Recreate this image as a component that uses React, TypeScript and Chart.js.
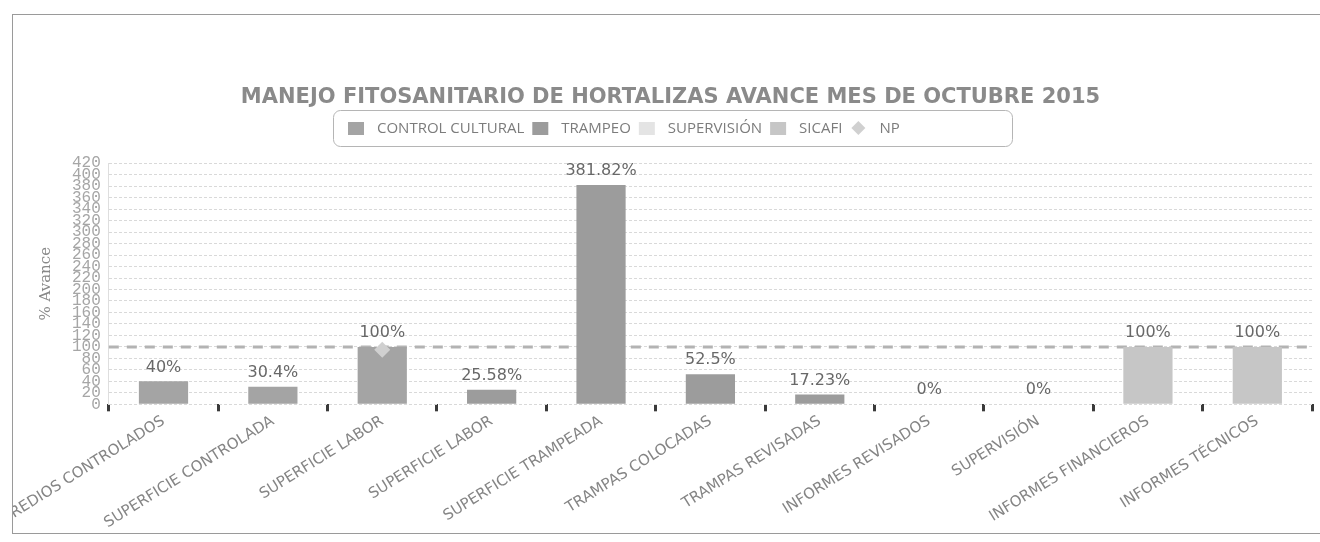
import React, { useEffect, useRef } from 'react';
import { Chart, registerables } from 'chart.js';

Chart.register(...registerables);

const categories = [
  'PREDIOS CONTROLADOS',
  'SUPERFICIE CONTROLADA',
  'SUPERFICIE LABOR',
  'SUPERFICIE LABOR',
  'SUPERFICIE TRAMPEADA',
  'TRAMPAS COLOCADAS',
  'TRAMPAS REVISADAS',
  'INFORMES REVISADOS',
  'SUPERVISIÓN',
  'INFORMES FINANCIEROS',
  'INFORMES TÉCNICOS',
];

const controlCultural = [40, 30.4, 100, null, null, null, null, null, null, null, null];
const trampeo = [null, null, null, 25.58, 381.82, 52.5, 17.23, null, null, null, null];
const supervision = [null, null, null, null, null, null, null, 0, 0, null, null];
const sicafi = [null, null, null, null, null, null, null, null, null, 100, 100];
const np = [null, null, 95, null, null, null, null, null, null, null, null];

const metaValue = 100;
const yMin = 0;
const yMax = 420;
const yStep = 20;

const titleText = 'MANEJO FITOSANITARIO DE HORTALIZAS AVANCE MES DE OCTUBRE 2015';
const yTitle = '% Avance';

const metaLinePlugin = {
  id: 'metaLine',
  beforeDatasetsDraw(chart: any) {
    const { ctx, chartArea } = chart;
    const y = chart.scales.y.getPixelForValue(metaValue);
    ctx.save();
    ctx.beginPath();
    ctx.setLineDash([10, 8]);
    ctx.strokeStyle = '#b3b3b3';
    ctx.lineWidth = 3;
    ctx.moveTo(chartArea.left, y);
    ctx.lineTo(chartArea.right, y);
    ctx.stroke();
    ctx.restore();
  },
};

const valueLabelPlugin = {
  id: 'valueLabels',
  afterDatasetsDraw(chart: any) {
    const { ctx } = chart;
    ctx.save();
    ctx.font = '16px "DejaVu Sans"';
    ctx.fillStyle = '#686868';
    ctx.textAlign = 'center';
    ctx.textBaseline = 'bottom';
    chart.data.datasets.forEach((ds: any, i: number) => {
      if (ds.type === 'line') return;
      const meta = chart.getDatasetMeta(i);
      meta.data.forEach((el: any, j: number) => {
        const v = ds.data[j];
        if (v === null || v === undefined) return;
        ctx.fillText(`${v}%`, el.x, el.y - 6);
      });
    });
    ctx.restore();
  },
};

const legendPlugin = {
  id: 'boxedLegend',
  afterDraw(chart: any) {
    const { ctx } = chart;
    const bx = 320;
    const by = 95;
    const bw = 679;
    const bh = 36;
    ctx.save();
    ctx.beginPath();
    (ctx as any).roundRect(bx + 0.5, by + 0.5, bw, bh, 7);
    ctx.strokeStyle = '#b5b5b5';
    ctx.lineWidth = 1;
    ctx.stroke();
    const cy = by + bh / 2;
    let x = 335;
    ctx.font = '15px "Open Sans"';
    ctx.textBaseline = 'middle';
    ctx.textAlign = 'left';
    chart.data.datasets.forEach((ds: any) => {
      if (ds.type === 'line') {
        ctx.beginPath();
        ctx.moveTo(x + 8, cy - 7);
        ctx.lineTo(x + 15, cy);
        ctx.lineTo(x + 8, cy + 7);
        ctx.lineTo(x + 1, cy);
        ctx.closePath();
        ctx.fillStyle = ds.backgroundColor;
        ctx.fill();
      } else {
        ctx.fillStyle = ds.backgroundColor;
        ctx.fillRect(x, cy - 6, 16, 13);
      }
      x += 16 + 13;
      ctx.fillStyle = '#7c7c7c';
      ctx.fillText(ds.label, x, cy + 1);
      x += ctx.measureText(ds.label).width + 8;
    });
    ctx.restore();
  },
};

export default function App() {
  const ref = useRef<HTMLCanvasElement | null>(null);

  useEffect(() => {
    if (!ref.current) return;
    Chart.defaults.font.family = '"DejaVu Sans"';
    const chart = new Chart(ref.current, {
      type: 'bar',
      data: {
        labels: categories,
        datasets: [
          { type: 'bar', label: 'CONTROL CULTURAL', data: controlCultural, backgroundColor: '#a4a4a4', order: 1 } as any,
          { type: 'bar', label: 'TRAMPEO', data: trampeo, backgroundColor: '#9c9c9c', order: 1 } as any,
          { type: 'bar', label: 'SUPERVISIÓN', data: supervision, backgroundColor: '#e4e4e4', order: 1 } as any,
          { type: 'bar', label: 'SICAFI', data: sicafi, backgroundColor: '#c6c6c6', order: 1 } as any,
          {
            type: 'line',
            label: 'NP',
            data: np,
            order: 0,
            showLine: false,
            backgroundColor: '#d0d0d0',
            borderColor: '#d0d0d0',
            pointStyle: 'rectRot',
            pointRadius: 8,
            borderWidth: 0,
          } as any,
        ],
      },
      options: {
        animation: false,
        responsive: false,
        maintainAspectRatio: false,
        layout: { padding: { left: 10, right: 2, top: 0, bottom: 0 } },
        datasets: { bar: { skipNull: true, categoryPercentage: 0.9, barPercentage: 0.5 } } as any,
        plugins: {
          legend: { display: false },
          tooltip: { enabled: false },
          title: {
            display: true,
            text: titleText,
            color: '#8a8a8a',
            font: { size: 21, weight: 'bold', family: '"DejaVu Sans"' },
            padding: { top: 70, bottom: 53 },
          },
        },
        scales: {
          x: {
            grid: {
              display: true,
              drawOnChartArea: false,
              drawTicks: true,
              tickLength: 7,
              tickColor: '#3a3a3a',
              tickWidth: 3,
              offset: true,
            },
            border: { display: false },
            ticks: {
              autoSkip: false,
              minRotation: 32,
              maxRotation: 32,
              color: '#858585',
              font: { size: 15, family: '"DejaVu Sans"' },
              padding: 1,
            },
            afterFit: (scale: any) => {
              scale.paddingLeft = 0;
              scale.paddingRight = 0;
            },
          },
          y: {
            min: yMin,
            max: yMax,
            grid: {
              color: '#d9d9d9',
              lineWidth: 1,
              drawTicks: false,
            },
            border: { display: true, color: '#dedede', dash: [3, 2] },
            ticks: {
              stepSize: yStep,
              autoSkip: false,
              color: '#a6a6a6',
              font: { size: 16, family: '"Liberation Mono"' },
              padding: 8,
            },
            title: {
              display: true,
              text: yTitle,
              color: '#888888',
              font: { size: 15, family: '"DejaVu Serif"' },
              padding: { top: 14, bottom: 9 },
            },
          },
        },
      },
      plugins: [metaLinePlugin, valueLabelPlugin, legendPlugin],
    });
    return () => chart.destroy();
  }, []);

  return (
    <div
      style={{
        position: 'absolute',
        left: 12,
        top: 14,
        width: 1308,
        height: 518,
        borderLeft: '1px solid #9a9a9a',
        borderTop: '1px solid #9a9a9a',
        borderBottom: '1px solid #9a9a9a',
        background: '#fff',
        overflow: 'hidden',
      }}
    >
      <canvas ref={ref} width={1307} height={518} style={{ display: 'block', width: 1307, height: 518 }} />
    </div>
  );
}
